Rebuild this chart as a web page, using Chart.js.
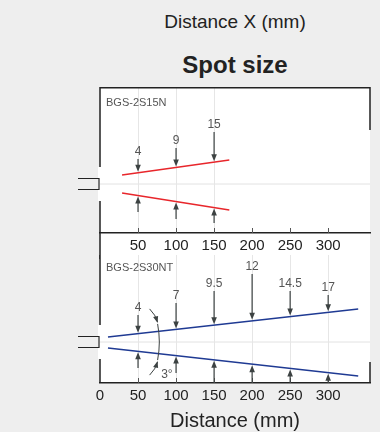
<!DOCTYPE html>
<html>
<head>
<meta charset="utf-8">
<script src="https://cdn.jsdelivr.net/npm/chart.js@4.4.1/dist/chart.umd.min.js"></script>
<style>
  body { margin: 0; background: #eeeeee; width: 380px; height: 432px; overflow: hidden; position: relative;
         font-family: "Liberation Sans", Arial, sans-serif; }
  .title { position: absolute; left: 135px; width: 200px; text-align: center; color: #222; }
  #t1 { top: 11px; font-size: 19px; line-height: 22px; }
  #t2 { top: 50px; font-size: 24px; line-height: 30px; font-weight: bold; }
  canvas { position: absolute; left: 0; }
  #top { top: 87px; }
  #bottom { top: 255px; }
</style>
</head>
<body>
<div class="title" id="t1">Distance X (mm)</div>
<div class="title" id="t2">Spot size</div>
<canvas id="top" width="380" height="172"></canvas>
<canvas id="bottom" width="380" height="178"></canvas>
<script>
// upper panel: BGS-2S15N
const topModel = "BGS-2S15N";
const topBeamX = [29, 170];
const topBeamUpper = [9, 24];
const topBeamLower = [-9, -26];
const topSpotX = [50, 100, 150];
const topSpotLabels = ["4", "9", "15"];
const topLabelY = [32, 43, 59];
const topArrowFromY = [-28, -35, -39];

// lower panel: BGS-2S30NT
const botModel = "BGS-2S30NT";
const botBeamX = [10.5, 339.5];
const botBeamUpper = [5, 33];
const botBeamLower = [-6, -34];
const botSpotX = [50, 100, 150, 200, 250, 300];
const botSpotLabels = ["4", "7", "9.5", "12", "14.5", "17"];
const botLabelY = [34, 46, 58, 75, 58, 54];
const botArrowFromY = [-26, -31, -41, -41, -41, -41];

const tickValuesTop = [50, 100, 150, 200, 250, 300];
const tickValuesBot = [0, 50, 100, 150, 200, 250, 300];
const innerTicks = [50, 100, 150, 200, 250, 300];

const INK = "#222";
const ARROW = "#3c4242";
const NOTE = "#555";

function lerp(xs, ys, x) {
  return ys[0] + (ys[1] - ys[0]) * (x - xs[0]) / (xs[1] - xs[0]);
}

function arrow(ctx, x, yFrom, yTo) {
  const dir = yTo > yFrom ? 1 : -1;
  ctx.beginPath();
  ctx.moveTo(x, yFrom);
  ctx.lineTo(x, yTo - dir * 5);
  ctx.stroke();
  ctx.beginPath();
  ctx.moveTo(x, yTo);
  ctx.lineTo(x - 2.8, yTo - dir * 7);
  ctx.lineTo(x + 2.8, yTo - dir * 7);
  ctx.closePath();
  ctx.fill();
}

function decor(o) {
  return {
    id: "decor",
    beforeDraw(chart) {
      const { ctx, chartArea: a, scales: { x, y } } = chart;
      ctx.save();
      ctx.fillStyle = "#fff";
      if (o.isTop) ctx.fillRect(a.left, a.top, a.right - a.left, chart.height - a.top);
      else ctx.fillRect(a.left, 0, a.right - a.left, a.bottom);
      const y0 = y.getPixelForValue(0);
      ctx.fillRect(a.left - 2, y0 - 17, 4, 34);
      // optical axis
      ctx.strokeStyle = "#e2e2e2";
      ctx.lineWidth = 1;
      ctx.beginPath();
      ctx.moveTo(a.left, y0);
      ctx.lineTo(a.right, y0);
      ctx.stroke();
      ctx.restore();
    },
    afterDatasetsDraw(chart) {
      const { ctx, chartArea: a, scales: { x, y } } = chart;
      const y0 = y.getPixelForValue(0);
      ctx.save();
      // frame
      ctx.strokeStyle = INK;
      ctx.lineWidth = 1.5;
      ctx.beginPath();
      const yStart = o.isTop ? a.top : 0;
      const yEnd = o.isTop ? chart.height : a.bottom;
      ctx.moveTo(a.left, yStart);
      ctx.lineTo(a.left, y0 - 17);
      ctx.moveTo(a.left, y0 + 17);
      ctx.lineTo(a.left, yEnd);
      if (o.isTop) {
        ctx.moveTo(a.left, a.top + 0.75);
        ctx.lineTo(a.right, a.top + 0.75);
        ctx.moveTo(a.right, a.top);
        ctx.lineTo(a.right, a.top + 43);
      } else {
        ctx.moveTo(a.right, a.bottom - 21);
        ctx.lineTo(a.right, a.bottom);
      }
      ctx.stroke();
      // inward tick marks on the distance axis
      ctx.strokeStyle = NOTE;
      ctx.lineWidth = 1;
      ctx.beginPath();
      innerTicks.forEach(v => {
        const px = Math.round(x.getPixelForValue(v)) + 0.5;
        ctx.moveTo(px, a.bottom - 5);
        ctx.lineTo(px, a.bottom);
      });
      ctx.stroke();
      // sensor outline
      ctx.strokeStyle = INK;
      ctx.lineWidth = 1.2;
      ctx.beginPath();
      ctx.moveTo(a.left - 22, y0 - 5.5);
      ctx.lineTo(a.left - 1, y0 - 5.5);
      ctx.lineTo(a.left - 1, y0 + 5.5);
      ctx.lineTo(a.left - 22, y0 + 5.5);
      ctx.stroke();
      // model name
      ctx.fillStyle = NOTE;
      ctx.font = "11px 'Liberation Sans', Arial, sans-serif";
      ctx.textBaseline = "middle";
      ctx.textAlign = "left";
      ctx.fillText(o.model, a.left + 6, o.isTop ? a.top + 16 : 13);
      // spot arrows
      ctx.font = "12px 'Liberation Sans', Arial, sans-serif";
      ctx.textAlign = "center";
      ctx.strokeStyle = ARROW;
      ctx.fillStyle = ARROW;
      ctx.lineWidth = 1.2;
      o.spotX.forEach((sx, i) => {
        const px = x.getPixelForValue(sx);
        const ly = y.getPixelForValue(o.labelY[i]);
        const up = y.getPixelForValue(lerp(o.beamX, o.beamUpper, sx));
        const lo = y.getPixelForValue(lerp(o.beamX, o.beamLower, sx));
        ctx.fillStyle = NOTE;
        ctx.fillText(o.labels[i], px, ly);
        ctx.fillStyle = ARROW;
        arrow(ctx, px, ly + 7, up - 1);
        arrow(ctx, px, y.getPixelForValue(o.fromY[i]), lo + 1);
      });
      // divergence angle
      if (o.angle) {
        const cx = x.getPixelForValue(o.angle.apex);
        const r = x.getPixelForValue(o.angle.at) - cx;
        const t = 0.19;
        ctx.strokeStyle = ARROW;
        ctx.lineWidth = 1;
        ctx.beginPath();
        ctx.arc(cx, y0, r, -t, t);
        ctx.stroke();
        const ax = cx + r * Math.cos(t);
        const ay = r * Math.sin(t);
        ctx.beginPath();
        ctx.moveTo(ax - 8, y0 - ay - 15);
        ctx.quadraticCurveTo(ax - 2, y0 - ay - 9, ax, y0 - ay - 2);
        ctx.moveTo(ax - 8, y0 + ay + 15);
        ctx.quadraticCurveTo(ax - 2, y0 + ay + 9, ax, y0 + ay + 2);
        ctx.stroke();
        [-1, 1].forEach(s => {
          ctx.beginPath();
          ctx.moveTo(ax, y0 + s * (ay + 1));
          ctx.lineTo(ax - 4.5, y0 + s * (ay + 7));
          ctx.lineTo(ax + 0.5, y0 + s * (ay + 8));
          ctx.closePath();
          ctx.fill();
        });
        ctx.fillStyle = NOTE;
        ctx.font = "12px 'Liberation Sans', Arial, sans-serif";
        ctx.fillText("3°", x.getPixelForValue(o.angle.labelX), y.getPixelForValue(o.angle.labelY));
      }
      ctx.restore();
    }
  };
}

function beam(xs, ys, color) {
  return {
    data: xs.map((v, i) => ({ x: v, y: ys[i] })),
    borderColor: color,
    borderWidth: 1.5,
    pointRadius: 0,
    fill: false
  };
}

function xScale(ticksShown, spots, withTitle) {
  return {
    type: "linear",
    min: 0,
    max: 355,
    ticks: {
      stepSize: 50,
      padding: 4,
      color: INK,
      font: { family: "'Liberation Sans', Arial, sans-serif", size: 15 },
      maxRotation: 0,
      callback: v => (ticksShown.includes(v) ? String(v) : null)
    },
    grid: {
      drawTicks: false,
      color: c => (spots.includes(c.tick.value) ? "#e6e6e6" : "rgba(0,0,0,0)")
    },
    border: { display: true, color: INK, width: 1.5 },
    title: {
      display: withTitle,
      text: "Distance (mm)",
      color: INK,
      font: { family: "'Liberation Sans', Arial, sans-serif", size: 20 },
      padding: { top: 0, bottom: 0 }
    }
  };
}

const baseOptions = {
  responsive: false,
  animation: false,
  events: [],
  plugins: { legend: { display: false }, tooltip: { enabled: false } }
};

new Chart(document.getElementById("top"), {
  type: "line",
  data: {
    datasets: [
      beam(topBeamX, topBeamUpper, "#e8262b"),
      beam(topBeamX, topBeamLower, "#e8262b")
    ]
  },
  options: Object.assign({}, baseOptions, {
    layout: { padding: { left: 100, right: 10, top: 0, bottom: 0 } },
    scales: {
      x: xScale(tickValuesTop, topSpotX, false),
      y: { display: false, min: -49, max: 97 }
    }
  }),
  plugins: [decor({
    isTop: true, model: topModel, beamX: topBeamX, beamUpper: topBeamUpper, beamLower: topBeamLower,
    spotX: topSpotX, labels: topSpotLabels, labelY: topLabelY, fromY: topArrowFromY
  })]
});

new Chart(document.getElementById("bottom"), {
  type: "line",
  data: {
    datasets: [
      beam(botBeamX, botBeamUpper, "#1f3a93"),
      beam(botBeamX, botBeamLower, "#1f3a93")
    ]
  },
  options: Object.assign({}, baseOptions, {
    layout: { padding: { left: 100, right: 10, top: 0, bottom: 0 } },
    scales: {
      x: xScale(tickValuesBot, botSpotX, true),
      y: { display: false, min: -41, max: 87 }
    }
  }),
  plugins: [decor({
    isTop: false, model: botModel, beamX: botBeamX, beamUpper: botBeamUpper, beamLower: botBeamLower,
    spotX: botSpotX, labels: botSpotLabels, labelY: botLabelY, fromY: botArrowFromY,
    angle: { apex: -48, at: 78, labelX: 88, labelY: -33 }
  })]
});
</script>
</body>
</html>
